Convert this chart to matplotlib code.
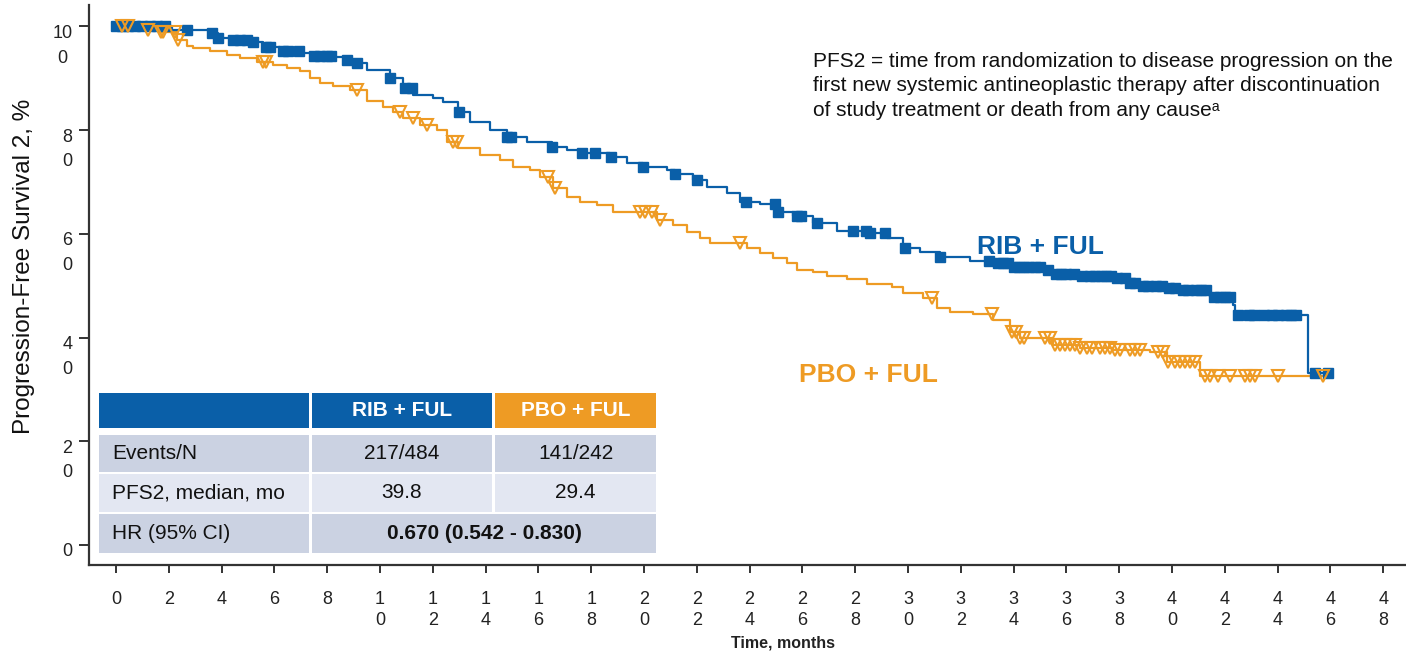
import numpy as np
import matplotlib
matplotlib.use("Agg")
from matplotlib import pyplot as plt
from matplotlib.patches import Rectangle

BLUE = "#0A5FA8"
ORANGE = "#EE9B24"
NARROW = ["Liberation Sans Narrow", "Liberation Sans", "DejaVu Sans"]
REGULAR = ["Liberation Sans", "DejaVu Sans"]

# Kaplan-Meier steps (months, % surviving) for RIB + FUL
rib_t = [0, 2.12, 3.56, 3.86, 4.43, 5.19, 5.57, 6.21, 6.97, 7.46, 8.22, 8.75, 9.13, 9.51,
         10.38, 10.87, 11.25, 12.01, 12.39, 12.95, 13.41, 14.17, 14.81, 15.57, 16.52, 17.08,
         17.65, 18.71, 19.36, 19.96, 20.87, 21.17, 21.86, 22.39, 23.14, 23.64, 24.39, 25.04,
         25.64, 26.40, 27.31, 28.45, 29.20, 29.81, 30.45, 31.21, 32.35, 33.11, 33.98, 35.27,
         35.49, 36.52, 37.77, 38.30, 38.79, 39.80, 40.20, 41.44, 42.31, 42.40, 45.15, 46.0]
rib_s = [100, 99.3, 98.7, 97.8, 97.4, 97.0, 96.0, 95.3, 94.9, 94.3, 94.1, 93.5, 93.0, 91.6,
         90.1, 88.1, 86.8, 86.2, 85.4, 83.5, 81.6, 80.0, 78.7, 77.7, 76.8, 76.2,
         75.6, 74.8, 73.7, 72.9, 72.3, 71.6, 70.4, 69.0, 67.9, 66.2, 65.8, 64.2,
         63.4, 62.1, 60.6, 60.2, 59.2, 57.3, 56.5, 55.5, 54.8, 54.4, 53.6, 53.0,
         52.3, 51.9, 51.5, 50.5, 50.0, 49.6, 49.2, 47.8, 46.3, 44.4, 33.2, 33.2]
rib_cens = [0.0, 0.23, 0.45, 0.72, 0.98, 1.29, 1.55, 1.86, 2.69, 3.64, 3.86, 4.43, 4.70, 4.96,
            5.19, 5.68, 5.83, 6.33, 6.52, 6.93, 7.50, 7.73, 7.99, 8.14, 8.75, 9.13, 10.38,
            10.95, 11.21, 12.99, 14.81, 14.96, 16.52, 17.65, 18.14, 18.75, 19.96, 21.17,
            22.01, 23.86, 24.96, 25.08, 25.80, 25.95, 26.55, 27.92, 28.41, 28.56, 29.13,
            29.89, 31.21, 33.07, 33.4, 33.6, 33.8, 34.0, 34.2, 34.4, 34.6, 34.8, 35.0, 35.3,
            35.6, 35.8, 36.0, 36.3, 36.6, 36.9, 37.1, 37.3, 37.5, 37.7, 37.9, 38.2, 38.4,
            38.6, 38.9, 39.1, 39.4, 39.6, 39.9, 40.1, 40.4, 40.6, 40.9, 41.1, 41.3, 41.6,
            41.8, 42.0, 42.2, 42.5, 42.9, 43.1, 43.5, 43.8, 44.0, 44.3, 44.5, 44.7, 45.4, 45.9]

# Kaplan-Meier steps for PBO + FUL
pbo_t = [0, 1.02, 1.67, 2.31, 2.69, 2.92, 3.56, 4.20, 4.70, 5.34, 5.95, 6.48, 6.97, 7.35,
         7.73, 8.22, 8.86, 9.51, 10.11, 10.49, 10.87, 11.52, 12.16, 12.54, 12.95, 13.79,
         14.55, 15.04, 15.68, 16.06, 16.55, 17.08, 17.58, 18.22, 18.83, 20.49, 21.10, 21.63,
         22.12, 22.50, 23.90, 24.39, 24.89, 25.42, 25.80, 26.40, 26.93, 27.69, 28.45, 29.40,
         29.81, 30.57, 31.10, 31.59, 32.46, 33.22, 33.86, 34.24, 35.49, 36.52, 37.77, 39.17,
         39.81, 41.06, 46.0]
pbo_s = [100, 99.3, 98.9, 97.4, 96.3, 95.9, 95.3, 94.5, 93.9, 93.2, 92.6, 92.0, 91.4, 90.1,
         89.1, 88.5, 87.8, 85.6, 84.5, 83.5, 82.4, 81.0, 80.0, 77.7, 76.6, 75.2,
         74.3, 72.9, 72.3, 71.0, 68.9, 67.1, 66.2, 65.6, 64.2, 62.7, 61.7, 60.4,
         59.2, 58.2, 57.3, 56.3, 55.4, 54.4, 53.0, 52.7, 51.9, 51.3, 50.3, 49.7,
         48.6, 47.6, 45.7, 44.9, 44.6, 43.4, 41.1, 39.9, 38.6, 38.0, 37.6, 37.2,
         35.3, 32.6, 32.6]
pbo_cens = [0.23, 0.45, 1.21, 1.70, 1.78, 2.23, 2.35, 5.57, 5.68, 9.13, 10.76, 11.25, 11.78,
            12.77, 12.92, 16.36, 16.63, 19.85, 20.04, 20.30, 20.61, 23.64, 30.91, 33.18,
            33.94, 34.09, 34.24, 34.39, 35.19, 35.38, 35.57, 35.76, 35.95, 36.14, 36.33,
            36.52, 36.78, 36.97, 37.27, 37.46, 37.65, 37.84, 38.03, 38.41, 38.60, 38.79,
            39.47, 39.66, 39.85, 40.11, 40.30, 40.49, 40.68, 40.87, 41.25, 41.44, 41.74,
            42.2, 42.77, 42.95, 43.14, 44.0, 45.7]

x_ticks = list(range(0, 50, 2))
y_ticks = [0, 20, 40, 60, 80, 100]

# summary table contents
tbl_header = ["", "RIB + FUL", "PBO + FUL"]
tbl_rows = [["Events/N", "217/484", "141/242"],
            ["PFS2, median, mo", "39.8", "29.4"]]
hr_label = "HR (95% CI)"
hr_value = "0.670 (0.542 - 0.830)"


def surv_at(times, st, ss):
    idx = np.searchsorted(st, times, side="right") - 1
    return np.asarray(ss)[idx]


def split_digits(v):
    s = str(v)
    return s if len(s) == 1 else s[:-1] + "\n" + s[-1]


fig = plt.figure(figsize=(14.06, 6.54), dpi=100)
ax = fig.add_axes([0.0633, 0.136, 0.9367, 0.856])

ax.step(rib_t, rib_s, where="post", color=BLUE, lw=1.6, zorder=3)
ax.step(pbo_t, pbo_s, where="post", color=ORANGE, lw=1.6, zorder=2)
ax.plot(rib_cens, surv_at(rib_cens, rib_t, rib_s), ls="none", marker="s",
        ms=6.5, color=BLUE, zorder=4)
ax.plot(pbo_cens, surv_at(pbo_cens, pbo_t, pbo_s), ls="none", marker="v",
        ms=8, mfc="none", mec=ORANGE, mew=1.5, zorder=4)

ax.set_xlim(-1.02, 48.86)
ax.set_ylim(-3.86, 104.1)
for side in ["top", "right"]:
    ax.spines[side].set_visible(False)
for side in ["left", "bottom"]:
    ax.spines[side].set_linewidth(1.6)
    ax.spines[side].set_color("#333333")

ax.set_xticks(x_ticks)
ax.set_xticklabels([split_digits(v) for v in x_ticks], family=NARROW, fontsize=13,
                   linespacing=1.25, color="#222222")
ax.tick_params(axis="x", length=6, width=1.4, color="#333333", pad=13)

ax.set_yticks(y_ticks)
ax.set_yticklabels([])
ax.tick_params(axis="y", length=7, width=1.4, color="#333333")
for v in y_ticks:
    ax.annotate(split_digits(v), xy=(0, v), xycoords=("axes fraction", "data"),
                xytext=(-12, 1.2), textcoords="offset points", ha="right", va="top",
                ma="center", family=NARROW, fontsize=13, linespacing=1.6, color="#222222")

fig.text(0.017, 0.592, "Progression-Free Survival 2, %", rotation=90, ha="center",
         va="center", family=REGULAR, fontsize=17.5, color="#111111")
fig.text(0.557, 0.017, "Time, months", ha="center", va="center", family=NARROW,
         fontsize=11.5, fontweight="bold", color="#222222")

fig.text(0.578, 0.921, "PFS2 = time from randomization to disease progression on the\n"
         "first new systemic antineoplastic therapy after discontinuation\n"
         "of study treatment or death from any cause\u1d43",
         ha="left", va="top", family=REGULAR, fontsize=15, linespacing=1.38,
         color="#111111")

ax.text(35.0, 57.5, "RIB + FUL", color=BLUE, fontsize=19, fontweight="bold",
        family=REGULAR, ha="center", va="center")
ax.text(28.5, 32.8, "PBO + FUL", color=ORANGE, fontsize=19, fontweight="bold",
        family=REGULAR, ha="center", va="center")

# table drawn in its own pixel-unit axes
tax = fig.add_axes([99 / 1406, (654 - 553) / 654, 557 / 1406, 160 / 654])
tax.set_xlim(0, 557)
tax.set_ylim(160, 0)
tax.axis("off")
cols = [(0, 210), (213, 393), (396, 557)]
rows = [(0, 35), (42, 79), (81, 119), (121, 160)]
fills = [[BLUE, BLUE, ORANGE], ["#CBD2E2"] * 3, ["#E3E7F2"] * 3]
for r in range(3):
    y0, y1 = rows[r]
    for c in range(3):
        x0, x1 = cols[c]
        tax.add_patch(Rectangle((x0, y0), x1 - x0, y1 - y0, color=fills[r][c], lw=0))
        if r == 0:
            txt, kw = tbl_header[c], dict(color="white", fontweight="bold")
        else:
            txt, kw = tbl_rows[r - 1][c], dict(color="#111111")
        if c == 0:
            tax.text(13, (y0 + y1) / 2, txt, ha="left", va="center", family=REGULAR,
                     fontsize=15, **kw)
        else:
            tax.text((x0 + x1) / 2, (y0 + y1) / 2, txt, ha="center", va="center",
                     family=REGULAR, fontsize=15, **kw)
y0, y1 = rows[3]
tax.add_patch(Rectangle((0, y0), 210, y1 - y0, color="#CBD2E2", lw=0))
tax.add_patch(Rectangle((213, y0), 557 - 213, y1 - y0, color="#CBD2E2", lw=0))
tax.text(13, (y0 + y1) / 2, hr_label, ha="left", va="center", family=REGULAR,
         fontsize=15, color="#111111")
tax.text((213 + 557) / 2, (y0 + y1) / 2, hr_value, ha="center", va="center",
         family=REGULAR, fontsize=15, fontweight="bold", color="#111111")

fig.savefig("out.png", dpi=100)
